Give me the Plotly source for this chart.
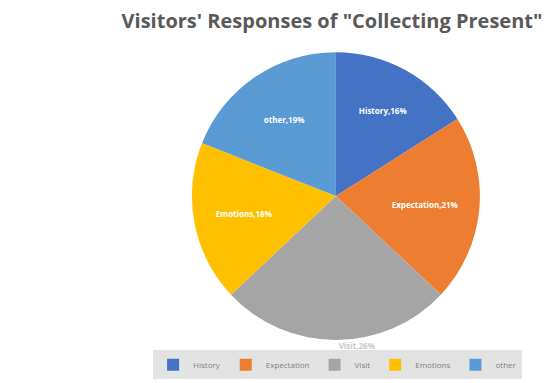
import plotly.graph_objects as go

labels = ["History", "Expectation", "Visit", "Emotions", "other"]
values = [16, 21, 26, 18, 19]
colors = ["#4472C4", "#ED7D31", "#A5A5A5", "#FFC000", "#5B9BD5"]
text_positions = ["inside", "inside", "outside", "inside", "inside"]

fig = go.Figure(go.Pie(
    labels=labels,
    values=values,
    sort=False,
    direction="clockwise",
    rotation=0,
    marker=dict(colors=colors, line=dict(color="white", width=0)),
    texttemplate="<b>%{label},%{percent:.0%}</b>",
    textposition=text_positions,
    insidetextorientation="horizontal",
    outsidetextfont=dict(family="Open Sans", size=8, color="#C8C8C8"),
    insidetextfont=dict(family="Open Sans", size=8, color="white"),
    domain=dict(x=[0.344, 0.860], y=[0.112, 0.864]),
    hoverinfo="label+percent",
    automargin=False,
))

fig.update_layout(
    width=558, height=383,
    margin=dict(l=0, r=0, t=0, b=0),
    paper_bgcolor="white",
    title=dict(
        text="<b>Visitors' Responses of \"Collecting Present\"</b>",
        x=0.595, xanchor="center", y=0.945, yanchor="middle",
        font=dict(family="Open Sans", size=20, color="#595959"),
    ),
    legend=dict(
        orientation="h", x=0.605, xanchor="center", y=0.01, yanchor="bottom",
        bgcolor="#E3E3E3", font=dict(family="Open Sans", size=8, color="#7F7F7F"),
        itemwidth=30, traceorder="normal", tracegroupgap=0,
    ),
)

fig.write_html("out.html")
